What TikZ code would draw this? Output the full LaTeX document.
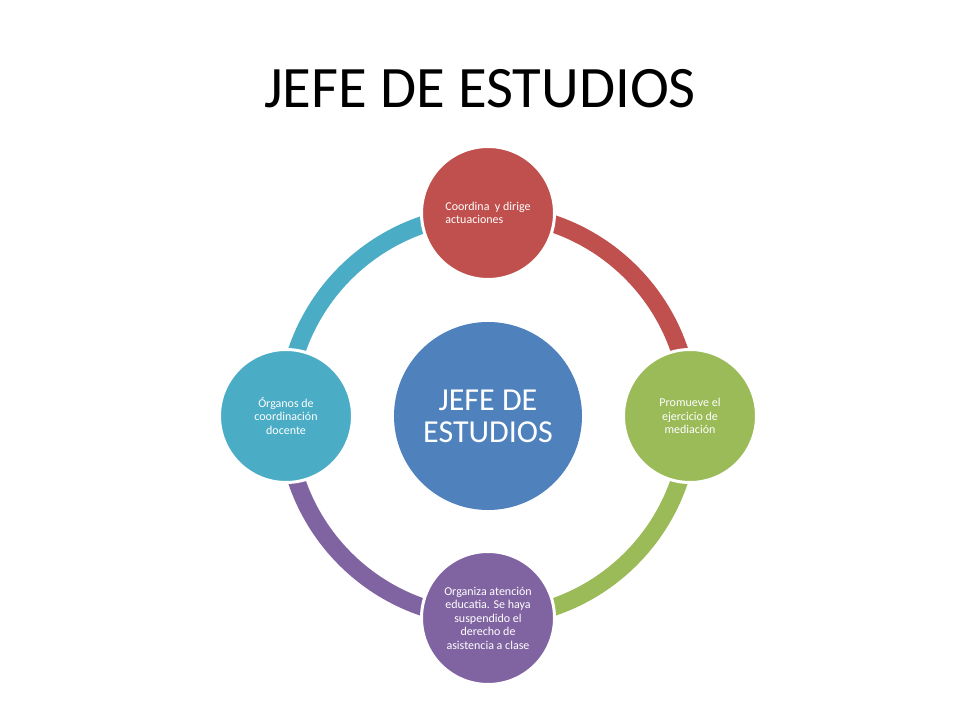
\documentclass[tikz,border=0pt]{standalone}
\usepackage{fontspec}
\setmainfont{Carlito}
\usetikzlibrary{backgrounds}
\definecolor{cred}{HTML}{C0504D}
\definecolor{cgreen}{HTML}{9BBB59}
\definecolor{cpurple}{HTML}{8064A2}
\definecolor{ccyan}{HTML}{4BACC6}
\definecolor{cblue}{HTML}{4F81BD}
\tikzset{
  small/.style={circle, draw=white, line width=3pt, minimum size=133pt, inner sep=0pt,
    text=white, font=\fontsize{12}{13.5}\selectfont, align=center},
  big/.style={circle, fill=cblue, minimum size=188pt, inner sep=0pt,
    text=white, font=\fontsize{32}{32}\selectfont, align=center},
  band/.style={line width=17.5pt, line cap=butt},
  title/.style={font=\fontsize{58.7}{70}\selectfont, anchor=base, inner sep=0pt}
}
\begin{document}
\begin{tikzpicture}[x=1pt,y=1pt]
\path[use as bounding box] (0,0) rectangle (960,720);
\node[title] (ttl) at (480,612) {JEFE DE ESTUDIOS};
\node[big] (mid) at (488,304) {JEFE DE\\ESTUDIOS};
\node[small, fill=cred, align=left] (top) at (488,507) {Coordina\ \ y dirige\\actuaciones};
\node[small, fill=cgreen] (rgt) at (690,304) {Promueve el\\ejercicio de\\mediación};
\node[small, fill=cpurple] (bot) at (488,102) {Organiza atención\\educatia. Se haya\\suspendido el\\derecho de\\asistencia a clase};
\node[small, fill=ccyan] (lft) at (286,304) {Órganos de\\coordinación\\docente};
\begin{pgfonlayer}{background}
\draw[band, cred] (top.center) arc[start angle=90, end angle=0, radius=202pt];
\draw[band, cgreen] (rgt.center) arc[start angle=0, end angle=-90, radius=202pt];
\draw[band, cpurple] (bot.center) arc[start angle=270, end angle=180, radius=202pt];
\draw[band, ccyan] (lft.center) arc[start angle=180, end angle=90, radius=202pt];
\end{pgfonlayer}
\end{tikzpicture}
\end{document}
